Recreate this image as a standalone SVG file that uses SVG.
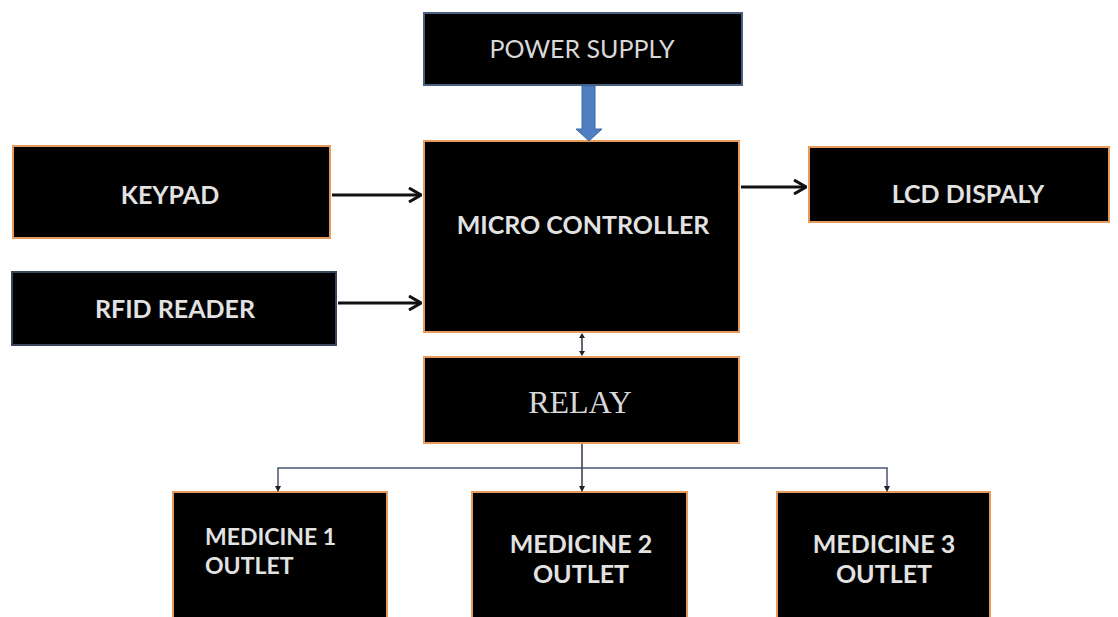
<svg xmlns="http://www.w3.org/2000/svg" width="1118" height="617" viewBox="0 0 1118 617">
<style>
.box{fill:#000;stroke:#e89a5a;stroke-width:2}
.t{fill:#e2e2e2;font-family:Lato,"Open Sans","Liberation Sans",sans-serif;font-weight:bold;font-size:25px;text-anchor:middle}
.conn{stroke:#111;stroke-width:3;fill:none}
.thin{stroke:#33334a;stroke-width:1.5;fill:none}
</style>
<defs>
<marker id="ah" markerWidth="14" markerHeight="16" refX="13" refY="8" orient="auto" markerUnits="userSpaceOnUse">
<path d="M1,1 L13,8 L1,15" fill="none" stroke="#111" stroke-width="3"/>
</marker>
</defs>
<rect width="1118" height="617" fill="#fff"/>
<g id="power-supply"><rect x="424" y="13" width="318" height="72" fill="#000" stroke="#4a6080" stroke-width="2"/><text class="t" x="582" y="58" style="font-weight:normal;fill:#d8d8d8">POWER SUPPLY</text></g>
<g id="micro-controller"><rect class="box" x="424" y="141" width="315" height="191"/><text class="t" x="583" y="234">MICRO CONTROLLER</text></g>
<g id="keypad"><rect class="box" x="13" y="146" width="317" height="92"/><text class="t" x="170" y="204">KEYPAD</text></g>
<g id="rfid-reader"><rect class="box" x="12" y="272" width="324" height="73" style="stroke:#3a4660"/><text class="t" x="175" y="318">RFID READER</text></g>
<g id="lcd-display"><rect class="box" x="809" y="147" width="300" height="75"/><text class="t" x="968" y="203">LCD DISPALY</text></g>
<g id="relay"><rect class="box" x="424" y="357" width="315" height="86"/><text x="580" y="413" style="fill:#d8d8d8;font-family:'Liberation Serif','DejaVu Serif',serif;font-size:32px;text-anchor:middle">RELAY</text></g>
<g id="medicine-1"><rect class="box" x="173" y="492" width="214" height="130"/><text class="t" x="205" y="545" style="text-anchor:start;font-size:23px">MEDICINE 1</text><text class="t" x="205" y="574" style="text-anchor:start;font-size:23px">OUTLET</text></g>
<g id="medicine-2"><rect class="box" x="472" y="492" width="215" height="130"/><text class="t" x="581" y="553">MEDICINE 2</text><text class="t" x="581" y="583">OUTLET</text></g>
<g id="medicine-3"><rect class="box" x="777" y="492" width="213" height="130"/><text class="t" x="884" y="553">MEDICINE 3</text><text class="t" x="884" y="583">OUTLET</text></g>
<g id="connectors">
<path d="M582,86 V129 H576 L589,141 L602,129 H595 V86 Z" fill="#4f7fc0" stroke="#3a6aa8" stroke-width="1"/>
<line class="conn" x1="332" y1="195" x2="421" y2="195" marker-end="url(#ah)"/>
<line class="conn" x1="338" y1="303" x2="421" y2="303" marker-end="url(#ah)"/>
<line class="conn" x1="741" y1="187" x2="806" y2="187" marker-end="url(#ah)"/>
<line class="thin" x1="582" y1="338" x2="582" y2="351" stroke-width="2"/>
<path d="M579,338 L582,333 L585,338 Z M579,351 L582,356 L585,351 Z" fill="#222"/>
<line class="thin" x1="582" y1="444" x2="582" y2="468"/>
<polyline class="thin" points="278,487 278,468 887,468 887,487" style="stroke:#4a5570"/>
<line class="thin" x1="582" y1="468" x2="582" y2="487"/>
<path d="M275,486 L278,492 L281,486 Z M579,486 L582,492 L585,486 Z M884,486 L887,492 L890,486 Z" fill="#222"/>
</g>
</svg>
